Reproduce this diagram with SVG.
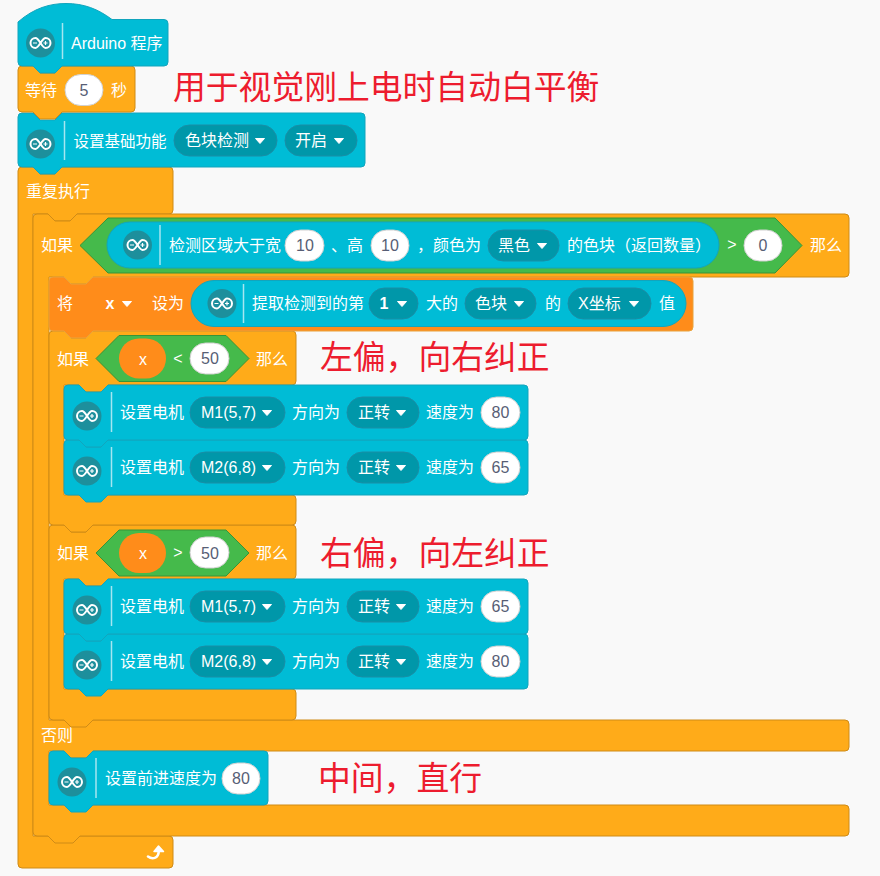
<svg xmlns="http://www.w3.org/2000/svg" width="880" height="876" viewBox="0 0 880 876">
<style>
text{font-family:"Liberation Sans","Noto Sans CJK SC",sans-serif;font-size:16px;fill:#fff}
.c{fill:#00bcd6;stroke:#12a5bd;stroke-width:1}
.o{fill:#ffab19;stroke:#cf8b17;stroke-width:1}
.v{fill:#ff8c1a;stroke:#e8a23c;stroke-width:1}
.g{fill:#45ba4b;stroke:#389438;stroke-width:1}
.dd{fill:#0097a9;stroke:#1a8ea6;stroke-width:1}
.in{fill:#fff;stroke:#d0d0d0;stroke-width:1}
.num{fill:#575e75;text-anchor:middle}
.mid{text-anchor:middle}
.sep{stroke:#a6e6f0;stroke-width:1.5}
.r{font-size:32.8px;fill:#ed1c2e}
</style>
<defs>
<g id="icon">
<circle r="14.5" fill="#1d8f9c"/>
<path d="M-5-5a5 5 0 0 0 0 10c3.500 0 6.500-10 10-10a5 5 0 0 1 0 10c-3.500 0-6.500-10-10-10z" fill="none" stroke="#fff" stroke-width="2"/>
<path d="M-7.500 0h4M3 0h4M5 -2v4" stroke="#fff" stroke-width="1.200"/>
</g>
<path id="arr" d="M-4.500-2.500h9L0 2.500z" fill="#fff" stroke="#fff" stroke-width="1" stroke-linejoin="round"/>
<path id="motor" class="c" d="M0 4q0-4 4-4H15l7 7h15l7-7H460q4 0 4 4V51q0 4-4 4H44l-7 7H22l-7-7H4q-4 0-4-4z"/>
</defs>
<rect width="880" height="876" fill="#f9f9f9"/>
<g id="connectors"></g>

<g id="repeat">
<path class="o" d="M18 171q0-4 4-4H33l7 7h15l7-7H169q4 0 4 4V210q0 4-4 4H77l-7 7H55l-7-7H33V836H169q4 0 4 4V864q0 4-4 4H22q-4 0-4-4z"/>
<text x="26" y="197">重复执行</text>
<path d="M148 856.500c4 3 10.500 2.500 10.800-5.500" fill="none" stroke="#fff" stroke-width="2.600" stroke-linecap="round"/>
<path d="M154 851.500L158.500 846L163.500 851.500z" fill="#fff" stroke="#fff" stroke-width="1.500" stroke-linejoin="round"/>
</g>

<g id="if-outer">
<path class="o" d="M33 218q0-4 4-4H48l7 7h15l7-7H845q4 0 4 4V273q0 4-4 4H93l-7 7H71l-7-7H49V720H845q4 0 4 4V747q0 4-4 4H93l-7 7H71l-7-7H49V805H845q4 0 4 4V832q0 4-4 4H80l-7 7H55l-7-7H37q-4 0-4-4z"/>
<text x="41" y="251">如果</text>
<text x="810" y="251">那么</text>
<text x="41" y="741">否则</text>
<path class="g" d="M80 245.500L108 218H775L802 245.500L775 273H108z"/>
<rect class="c" x="107" y="222" width="612" height="46" rx="23"/>
<use href="#icon" x="137.500" y="245"/>
<line class="sep" x1="160" y1="225" x2="160" y2="265"/>
<text x="169" y="251">检测区域大于宽</text>
<rect class="in" x="285" y="230" width="39" height="31" rx="15.500"/>
<text class="num" x="305" y="251">10</text>
<text x="331" y="251">、高</text>
<rect class="in" x="371" y="230" width="38" height="31" rx="15.500"/>
<text class="num" x="390" y="251">10</text>
<text x="417" y="251">，颜色为</text>
<rect class="dd" x="488" y="230" width="71" height="31" rx="15.500"/>
<text x="498" y="251">黑色</text>
<use href="#arr" x="542" y="246"/>
<text x="567" y="251">的色块（返回数量）</text>
<text class="mid" x="732" y="250">&gt;</text>
<rect class="in" x="744" y="230" width="38" height="31" rx="15.500"/>
<text class="num" x="763" y="251">0</text>
</g>

<g id="forward">
<path class="c" d="M49 755q0-4 4-4H64l7 7h15l7-7H264q4 0 4 4V801q0 4-4 4H93l-7 7H71l-7-7H53q-4 0-4-4z"/>
<use href="#icon" x="72" y="782"/>
<line class="sep" x1="96" y1="758" x2="96" y2="798"/>
<text x="105" y="784">设置前进速度为</text>
<rect class="in" x="222" y="763" width="38" height="31" rx="15.500"/>
<text class="num" x="241" y="784">80</text>
</g>

<g id="if-right">
<path class="o" d="M49 529q0-4 4-4H64l7 7h15l7-7H292q4 0 4 4V575q0 4-4 4H108l-7 7H86l-7-7H64V689H292q4 0 4 4V716q0 4-4 4H93l-7 7H71l-7-7H53q-4 0-4-4z"/>
<text x="57" y="559">如果</text>
<text x="256" y="559">那么</text>
<path class="g" d="M96 553L119 530H226L249 553L226 576H119z"/>
<rect x="119" y="533" width="47" height="40" rx="20" fill="#ff8c1a"/>
<text class="mid" x="143" y="559">x</text>
<text class="mid" x="178" y="558">&gt;</text>
<rect class="in" x="190" y="537" width="39" height="31" rx="15.500"/>
<text class="num" x="210" y="559">50</text>
</g>
<g id="motor-r2" transform="translate(64 634)">
<use href="#motor"/>
<use href="#icon" x="23" y="31"/>
<line class="sep" x1="47.500" y1="7" x2="47.500" y2="47"/>
<text x="56" y="33">设置电机</text>
<rect class="dd" x="126" y="12" width="95" height="31" rx="15.500"/>
<text x="137" y="33">M2(6,8)</text>
<use href="#arr" x="203" y="28"/>
<text x="228" y="33">方向为</text>
<rect class="dd" x="283" y="12" width="72" height="31" rx="15.500"/>
<text x="294" y="33">正转</text>
<use href="#arr" x="337" y="28"/>
<text x="362" y="33">速度为</text>
<rect class="in" x="417" y="12" width="39" height="31" rx="15.500"/>
<text class="num" x="436.500" y="33">80</text>
</g>
<g id="motor-r1" transform="translate(64 579)">
<use href="#motor"/>
<use href="#icon" x="23" y="31"/>
<line class="sep" x1="47.500" y1="7" x2="47.500" y2="47"/>
<text x="56" y="33">设置电机</text>
<rect class="dd" x="126" y="12" width="95" height="31" rx="15.500"/>
<text x="137" y="33">M1(5,7)</text>
<use href="#arr" x="203" y="28"/>
<text x="228" y="33">方向为</text>
<rect class="dd" x="283" y="12" width="72" height="31" rx="15.500"/>
<text x="294" y="33">正转</text>
<use href="#arr" x="337" y="28"/>
<text x="362" y="33">速度为</text>
<rect class="in" x="417" y="12" width="39" height="31" rx="15.500"/>
<text class="num" x="436.500" y="33">65</text>
</g>

<g id="if-left">
<path class="o" d="M49 335q0-4 4-4H64l7 7h15l7-7H292q4 0 4 4V381q0 4-4 4H108l-7 7H86l-7-7H64V495H292q4 0 4 4V521q0 4-4 4H93l-7 7H71l-7-7H53q-4 0-4-4z"/>
<text x="57" y="365">如果</text>
<text x="256" y="365">那么</text>
<path class="g" d="M96 358.500L119 335.500H226L249 358.500L226 381.500H119z"/>
<rect x="119" y="338.500" width="47" height="40" rx="20" fill="#ff8c1a"/>
<text class="mid" x="143" y="365">x</text>
<text class="mid" x="178" y="364">&lt;</text>
<rect class="in" x="190" y="343" width="39" height="31" rx="15.500"/>
<text class="num" x="210" y="364">50</text>
</g>
<g id="motor-l2" transform="translate(64 440)">
<use href="#motor"/>
<use href="#icon" x="23" y="31"/>
<line class="sep" x1="47.500" y1="7" x2="47.500" y2="47"/>
<text x="56" y="33">设置电机</text>
<rect class="dd" x="126" y="12" width="95" height="31" rx="15.500"/>
<text x="137" y="33">M2(6,8)</text>
<use href="#arr" x="203" y="28"/>
<text x="228" y="33">方向为</text>
<rect class="dd" x="283" y="12" width="72" height="31" rx="15.500"/>
<text x="294" y="33">正转</text>
<use href="#arr" x="337" y="28"/>
<text x="362" y="33">速度为</text>
<rect class="in" x="417" y="12" width="39" height="31" rx="15.500"/>
<text class="num" x="436.500" y="33">65</text>
</g>
<g id="motor-l1" transform="translate(64 385)">
<use href="#motor"/>
<use href="#icon" x="23" y="31"/>
<line class="sep" x1="47.500" y1="7" x2="47.500" y2="47"/>
<text x="56" y="33">设置电机</text>
<rect class="dd" x="126" y="12" width="95" height="31" rx="15.500"/>
<text x="137" y="33">M1(5,7)</text>
<use href="#arr" x="203" y="28"/>
<text x="228" y="33">方向为</text>
<rect class="dd" x="283" y="12" width="72" height="31" rx="15.500"/>
<text x="294" y="33">正转</text>
<use href="#arr" x="337" y="28"/>
<text x="362" y="33">速度为</text>
<rect class="in" x="417" y="12" width="39" height="31" rx="15.500"/>
<text class="num" x="436.500" y="33">80</text>
</g>

<g id="set-x">
<path class="v" d="M49 281q0-4 4-4H64l7 7h15l7-7H689q4 0 4 4V327q0 4-4 4H93l-7 7H71l-7-7H53q-4 0-4-4z"/>
<text x="57" y="309">将</text>
<text class="mid" x="110" y="309" font-weight="bold">x</text>
<use href="#arr" x="127" y="304"/>
<text x="152" y="309">设为</text>
<rect class="c" x="191" y="280.500" width="495" height="46" rx="23"/>
<use href="#icon" x="222" y="303.500"/>
<line class="sep" x1="243.500" y1="284" x2="243.500" y2="323"/>
<text x="252" y="309">提取检测到的第</text>
<rect class="dd" x="369" y="288" width="49" height="31" rx="15.500"/>
<text class="mid" x="384" y="309" font-weight="bold">1</text>
<use href="#arr" x="402" y="304"/>
<text x="426" y="309">大的</text>
<rect class="dd" x="465" y="288" width="71" height="31" rx="15.500"/>
<text x="475" y="309">色块</text>
<use href="#arr" x="519" y="304"/>
<text x="545" y="309">的</text>
<rect class="dd" x="568" y="288" width="83" height="31" rx="15.500"/>
<text x="578" y="309">X坐标</text>
<use href="#arr" x="634" y="304"/>
<text x="659" y="309">值</text>
</g>

<g id="set-base">
<path class="c" d="M18 117q0-4 4-4H33l7 7h15l7-7H361q4 0 4 4V163q0 4-4 4H62l-7 7H40l-7-7H22q-4 0-4-4z"/>
<use href="#icon" x="40.500" y="144"/>
<line class="sep" x1="64.500" y1="121" x2="64.500" y2="160"/>
<text x="73.500" y="147" font-size="15.500" style="font-size:15.5px">设置基础功能</text>
<rect class="dd" x="174" y="125" width="103" height="31" rx="15.500"/>
<text x="185" y="146">色块检测</text>
<use href="#arr" x="260" y="141"/>
<rect class="dd" x="285" y="125" width="72" height="31" rx="15.500"/>
<text x="295" y="146">开启</text>
<use href="#arr" x="339" y="141"/>
</g>

<g id="wait">
<path class="o" d="M18 70q0-4 4-4H33l7 7h15l7-7H131q4 0 4 4V108q0 4-4 4H62l-7 7H40l-7-7H22q-4 0-4-4z"/>
<text x="25" y="96">等待</text>
<rect class="in" x="65" y="74.500" width="38" height="31" rx="15.500"/>
<text class="num" x="84" y="96">5</text>
<text x="111" y="96">秒</text>
</g>

<g id="hat">
<path class="c" d="M18 22C34 8 50 3.500 66 3.500C84 3.500 98 9 112 19.500H164q4 0 4 4V62q0 4-4 4H62l-7 7H40l-7-7H22q-4 0-4-4z"/>
<use href="#icon" x="40.500" y="43"/>
<line class="sep" x1="62.500" y1="23" x2="62.500" y2="59"/>
<text x="71" y="49">Arduino 程序</text>
</g>

<g id="notes">
<text class="r" x="173" y="99">用于视觉刚上电时自动白平衡</text>
<text class="r" x="320" y="369">左偏，向右纠正</text>
<text class="r" x="320" y="565">右偏，向左纠正</text>
<text class="r" x="318" y="790">中间，直行</text>
</g>
</svg>
